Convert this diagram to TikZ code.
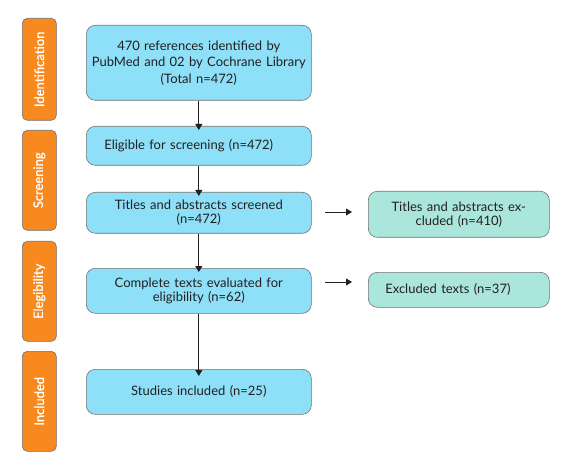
\documentclass[tikz,border=0pt]{standalone}
\usepackage{fontspec}
\setmainfont{Lato}
\newfontfamily\phasefont{Lato}[FakeBold=1.2]
\usetikzlibrary{arrows.meta}
\definecolor{phase}{HTML}{F7891F}
\definecolor{bluebox}{HTML}{8DE0F8}
\definecolor{tealbox}{HTML}{ABE6DC}
\definecolor{edge}{HTML}{707070}
\definecolor{txt}{HTML}{231F20}
\tikzset{
  phasebox/.style={draw=edge, line width=0.6pt, fill=phase, rounded corners=5pt, minimum width=34pt, anchor=north west},
  phaselabel/.style={text=white, font=\phasefont\fontsize{13}{15}\selectfont, rotate=90},
  mainbox/.style={draw=edge, line width=0.6pt, fill=bluebox, rounded corners=9pt, minimum width=225pt, text width=217pt, align=center, text=txt, font=\fontsize{13}{16.5}\selectfont, anchor=north west},
  sidebox/.style={draw=edge, line width=0.6pt, fill=tealbox, rounded corners=9pt, minimum width=181pt, text width=173pt, align=center, text=txt, font=\fontsize{13}{16}\selectfont, anchor=north west},
  conn/.style={draw=txt, line width=0.8pt, -{Triangle[length=6pt,width=7pt]}}
}
\begin{document}
\begin{tikzpicture}[x=1pt,y=-1pt]
\useasboundingbox (0,0) rectangle (567,462);
% phase bars
\node[phasebox, minimum height=102pt] (p1) at (22,18) {};
\node[phaselabel] (l1) at (p1.center) {Identification};
\node[phasebox, minimum height=100pt] (p2) at (22,130) {};
\node[phaselabel] (l2) at (p2.center) {Screening};
\node[phasebox, minimum height=100pt] (p3) at (22,241) {};
\node[phaselabel] (l3) at (p3.center) {Elegibility};
\node[phasebox, minimum height=100pt] (p4) at (22,351) {};
\node[phaselabel] (l4) at (p4.center) {Included};
% main boxes
\node[mainbox, minimum height=75pt] (b1) at (86,25) {470 references identified by\\PubMed and 02 by Cochrane Library\\(Total n=472)};
\node[mainbox, minimum height=39pt, align=left, text width=189pt] (b2) at (86,126) {Eligible for screening (n=472)};
\node[mainbox, minimum height=41pt, font=\fontsize{13}{14}\selectfont] (b3) at (86,192) {Titles and abstracts screened\\(n=472)};
\node[mainbox, minimum height=45pt, font=\fontsize{13}{14}\selectfont] (b4) at (86,268) {Complete texts evaluated for\\eligibility (n=62)};
\node[mainbox, minimum height=45pt] (b5) at (86,369) {Studies included (n=25)};
% side boxes
\node[sidebox, minimum height=46pt, font=\fontsize{13}{14}\selectfont] (s1) at (368,191) {Titles and abstracts ex-\\cluded (n=410)};
\node[sidebox, minimum height=35pt, align=left, text width=147pt] (s2) at (368,272) {Excluded texts (n=37)};
% arrows
\draw[conn] (b1.south) -- ([yshift=-4pt]b2.north);
\draw[conn] (b2.south) -- ([yshift=-4pt]b3.north);
\draw[conn] (b3.south) -- ([yshift=-4pt]b4.north);
\draw[conn] (b4.south) -- ([yshift=-7pt]b5.north);
\coordinate (a1s) at (325,212);
\coordinate (a1e) at (352,212);
\coordinate (a2s) at (325,282);
\coordinate (a2e) at (352,282);
\draw[conn] (a1s) -- (a1e);
\draw[conn] (a2s) -- (a2e);
\end{tikzpicture}
\end{document}
